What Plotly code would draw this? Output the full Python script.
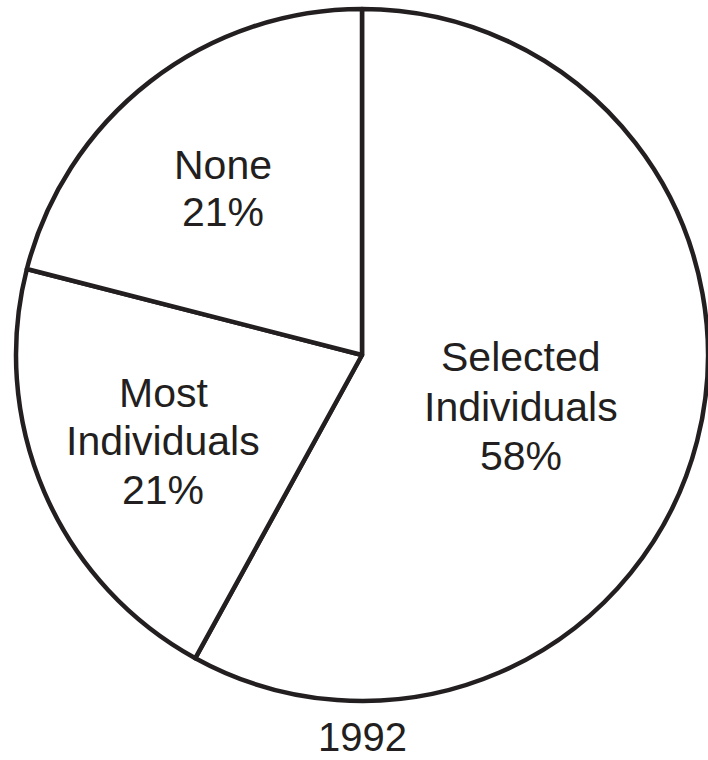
import plotly.graph_objects as go

# Data
labels = ["Selected Individuals", "Most Individuals", "None"]
values = [58, 21, 21]
year_label = "1992"

W, H = 708, 760
INK = "#231f20"
FONT = "Liberation Sans, Arial, Helvetica, sans-serif"

fig = go.Figure(
    go.Pie(
        labels=labels,
        values=values,
        sort=False,
        direction="clockwise",
        rotation=0,
        textinfo="none",
        hoverinfo="none",
        showlegend=False,
        marker=dict(colors=["white"] * len(values), line=dict(color=INK, width=4.5)),
        domain=dict(x=[16 / W, 1.0], y=[1 - 701 / H, 1 - 9 / H]),
    )
)

# label block centres (pixels) for each slice: per-line x, first-line y, line step
label_pos = [
    (521, 357, 49.5),
    (163, 392.5, 48.5),
    (223, 165, 47.5),
]

annotations = []
for lab, val, (cx, cy, step) in zip(labels, values, label_pos):
    lines = lab.split(" ") + [f"{val}%"]
    for i, line in enumerate(lines):
        annotations.append(
            dict(
                text=line,
                x=cx / W,
                y=1 - (cy + i * step) / H,
                xref="paper",
                yref="paper",
                xanchor="center",
                yanchor="middle",
                showarrow=False,
                font=dict(family=FONT, size=41, color=INK),
            )
        )

annotations.append(
    dict(
        text=year_label,
        x=362 / W,
        y=0,
        xref="paper",
        yref="paper",
        xanchor="center",
        yanchor="bottom",
        borderpad=0,
        showarrow=False,
        font=dict(family=FONT, size=40, color=INK),
    )
)

fig.update_layout(
    width=W,
    height=H,
    margin=dict(l=0, r=0, t=0, b=0),
    paper_bgcolor="white",
    plot_bgcolor="white",
    annotations=annotations,
)

fig.write_html("out.html")
